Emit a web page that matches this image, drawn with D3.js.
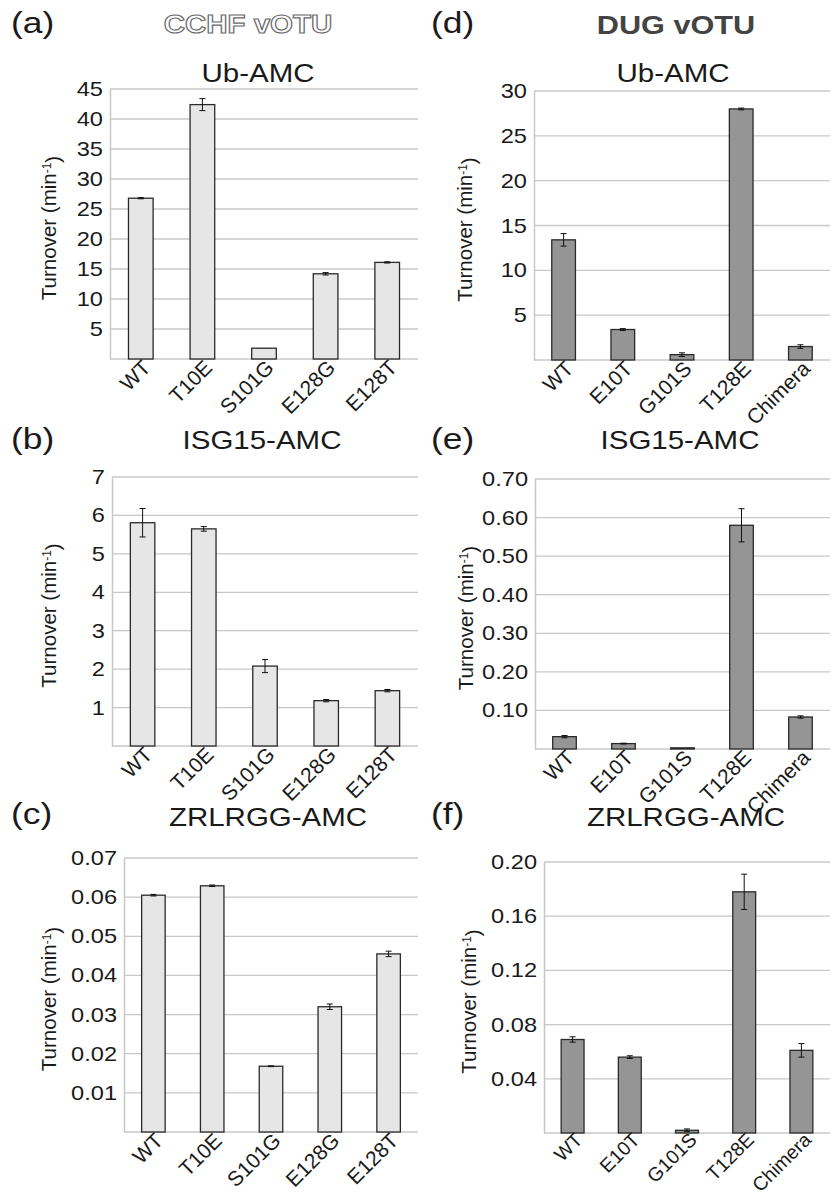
<!DOCTYPE html>
<html>
<head>
<meta charset="utf-8">
<script src="https://cdn.jsdelivr.net/npm/d3@7"></script>
<style>
  body { margin: 0; background: #fff; }
  text { font-family: "Liberation Sans", Arial, sans-serif; fill: #1a1a1a; }
</style>
</head>
<body>
<svg id="chart" width="832" height="1195"></svg>
<script>
// categories
var cchfMutants = ["WT", "T10E", "S101G", "E128G", "E128T"];
var dugMutants = ["WT", "E10T", "G101S", "T128E", "Chimera"];

// CCHF vOTU turnover (min-1) and errors
var cchfUb = [26.8, 42.4, 1.8, 14.2, 16.1];
var cchfUbErr = [0.1, 1.0, 0, 0.2, 0.1];
var cchfIsg = [5.81, 5.65, 2.08, 1.18, 1.44];
var cchfIsgErr = [0.37, 0.06, 0.17, 0.03, 0.03];
var cchfZr = [0.0605, 0.0629, 0.0168, 0.0320, 0.0455];
var cchfZrErr = [0.0002, 0.0002, 0.0001, 0.0007, 0.0007];

// DUG vOTU turnover (min-1) and errors
var dugUb = [13.4, 3.4, 0.6, 28.0, 1.5];
var dugUbErr = [0.7, 0.1, 0.2, 0.1, 0.2];
var dugIsg = [0.032, 0.014, 0.003, 0.58, 0.083];
var dugIsgErr = [0.003, 0.001, 0, 0.043, 0.003];
var dugZr = [0.069, 0.056, 0.002, 0.178, 0.061];
var dugZrErr = [0.002, 0.001, 0.001, 0.013, 0.005];

// tick values
var ticksUbA = [5, 10, 15, 20, 25, 30, 35, 40, 45];
var ticksIsgB = [1, 2, 3, 4, 5, 6, 7];
var ticksZrC = [0.01, 0.02, 0.03, 0.04, 0.05, 0.06, 0.07];
var ticksUbD = [5, 10, 15, 20, 25, 30];
var ticksIsgE = [0.10, 0.20, 0.30, 0.40, 0.50, 0.60, 0.70];
var ticksZrF = [0.04, 0.08, 0.12, 0.16, 0.20];

var LIGHT_FILL = "#e6e6e6";
var DARK_FILL = "#959595";
var GRID = "#c8c8c8";
var SX = 1.18; // the figure is a bit stretched sideways

var svg = d3.select("#chart");

// horizontal text, stretched like the source picture
var hText = function(g, x, y, str, size, opts) {
    opts = opts || {};
    return g.append("text")
        .attr("transform", "translate(" + x + "," + y + ") scale(" + SX + ",1)")
        .attr("text-anchor", opts.anchor || "middle")
        .style("font-size", size + "px")
        .style("font-weight", opts.weight || "normal")
        .text(str);
}

var drawPanel = function(p) {
    var g = svg.append("g");
    var x = d3.scaleBand().domain(p.cats).range([p.x0, p.x1]).paddingInner(0.6).paddingOuter(0.3);
    var y = d3.scaleLinear().domain([0, p.max]).range([p.yBase, p.yTop]);

    // grid
    g.selectAll("line.grid").data(p.ticks).enter().append("line")
        .attr("x1", p.x0).attr("x2", p.x1)
        .attr("y1", function(d) { return y(d); })
        .attr("y2", function(d) { return y(d); })
        .style("stroke", GRID).style("stroke-width", 1.3);

    // y axis (labels only, no tick marks)
    var yAxis = d3.axisLeft(y).tickValues(p.ticks).tickSize(0).tickPadding(7).tickFormat(p.fmt);
    var ax = g.append("g").attr("transform", "translate(" + p.x0 + ",0)").call(yAxis);
    ax.select(".domain").style("stroke", GRID).style("stroke-width", 1.5);
    ax.selectAll(".tick text").remove();
    p.ticks.forEach(function(t) {
        hText(g, p.x0 - 7, y(t) + 7, p.fmt(t), 20, {anchor: "end"});
    });
    g.append("line")
        .attr("x1", p.x0).attr("x2", p.x1)
        .attr("y1", p.yBase).attr("y2", p.yBase)
        .style("stroke", GRID).style("stroke-width", 1.5);

    // bars
    g.selectAll("rect.bar").data(p.vals).enter().append("rect")
        .attr("x", function(d, i) { return x(p.cats[i]); })
        .attr("y", function(d) { return y(d); })
        .attr("width", x.bandwidth())
        .attr("height", function(d) { return p.yBase - y(d); })
        .style("fill", p.fill)
        .style("stroke", "#2a2a2a")
        .style("stroke-width", 1.3);

    // error bars
    var eb = g.selectAll("g.err").data(p.vals).enter().append("g");
    eb.each(function(d, i) {
        var e = p.errs[i];
        if (!e) return;
        var cx = x(p.cats[i]) + x.bandwidth() / 2;
        var s = d3.select(this);
        s.append("line").attr("x1", cx).attr("x2", cx).attr("y1", y(d - e)).attr("y2", y(d + e));
        s.append("line").attr("x1", cx - 3).attr("x2", cx + 3).attr("y1", y(d - e)).attr("y2", y(d - e));
        s.append("line").attr("x1", cx - 3).attr("x2", cx + 3).attr("y1", y(d + e)).attr("y2", y(d + e));
    });
    eb.selectAll("line").style("stroke", "#111").style("stroke-width", 1);

    // category labels
    var catSize = p.catSize || 21, catDy = p.catDy || 10;
    g.selectAll("text.cat").data(p.cats).enter().append("text")
        .attr("transform", function(d) {
            return "translate(" + (x(d) + x.bandwidth() / 2 + 11) + "," + (p.yBase + catDy) + ") rotate(-45)";
        })
        .attr("text-anchor", "end")
        .style("font-size", catSize + "px")
        .text(function(d) { return d; });

    // title
    hText(g, p.titleX, p.titleY, p.title, 25);

    // y title
    var yt = g.append("text")
        .attr("transform", "translate(" + p.ytX + "," + ((p.yTop + p.yBase) / 2 + 4) + ") rotate(-90)")
        .attr("text-anchor", "middle")
        .style("font-size", "20.5px");
    yt.append("tspan").text("Turnover (min");
    yt.append("tspan").attr("dy", "-0.45em").style("font-size", "12px").text("-1");
    yt.append("tspan").attr("dy", "0.45em").text(")");

    // panel letter
    hText(g, p.letterX, p.letterY, p.letter, 30, {anchor: "start"});
}

var f0 = d3.format("d");
var f2 = d3.format(".2f");

drawPanel({cats: cchfMutants, vals: cchfUb, errs: cchfUbErr, ticks: ticksUbA, max: 45, fmt: f0,
    x0: 110, x1: 418, yTop: 89, yBase: 359, fill: LIGHT_FILL,
    title: "Ub-AMC", titleX: 258, titleY: 82, ytX: 56, letter: "(a)", letterX: 11, letterY: 33});
drawPanel({cats: cchfMutants, vals: cchfIsg, errs: cchfIsgErr, ticks: ticksIsgB, max: 7, fmt: f0,
    x0: 112, x1: 418, yTop: 477, yBase: 746, fill: LIGHT_FILL,
    title: "ISG15-AMC", titleX: 262, titleY: 449, ytX: 56, letter: "(b)", letterX: 11, letterY: 449});
drawPanel({cats: cchfMutants, vals: cchfZr, errs: cchfZrErr, ticks: ticksZrC, max: 0.07, fmt: f2,
    x0: 124, x1: 418, yTop: 858, yBase: 1132, fill: LIGHT_FILL,
    title: "ZRLRGG-AMC", titleX: 268, titleY: 826, ytX: 56, letter: "(c)", letterX: 11, letterY: 824});

drawPanel({cats: dugMutants, vals: dugUb, errs: dugUbErr, ticks: ticksUbD, max: 30, fmt: f0,
    x0: 534, x1: 830, yTop: 91, yBase: 360, fill: DARK_FILL,
    title: "Ub-AMC", titleX: 673, titleY: 82, ytX: 472, letter: "(d)", letterX: 431, letterY: 33});
drawPanel({cats: dugMutants, vals: dugIsg, errs: dugIsgErr, ticks: ticksIsgE, max: 0.70, fmt: f2,
    x0: 535, x1: 830, yTop: 479, yBase: 749, fill: DARK_FILL,
    title: "ISG15-AMC", titleX: 680, titleY: 449, ytX: 473, letter: "(e)", letterX: 431, letterY: 449});
drawPanel({cats: dugMutants, vals: dugZr, errs: dugZrErr, ticks: ticksZrF, max: 0.20, fmt: f2,
    x0: 544, x1: 830, yTop: 862, yBase: 1133, fill: DARK_FILL, catSize: 19.5, catDy: 8,
    title: "ZRLRGG-AMC", titleX: 686, titleY: 826, ytX: 476, letter: "(f)", letterX: 431, letterY: 824});

// group headers
hText(svg, 248, 33, "CCHF vOTU", 25, {weight: "bold"})
    .style("fill", "#fff").style("stroke", "#6a6a6a").style("stroke-width", 1.1);
hText(svg, 676, 34, "DUG vOTU", 26, {weight: "bold"}).style("fill", "#444");
</script>
</body>
</html>
